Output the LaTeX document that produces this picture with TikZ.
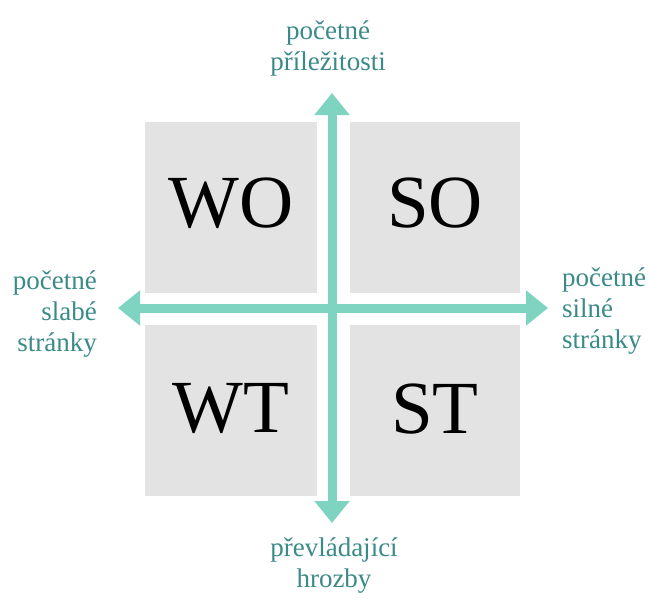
\documentclass[tikz,border=0pt]{standalone}
\usepackage{fontspec}
\setmainfont{Liberation Serif}
\usetikzlibrary{arrows.meta}
\definecolor{quadgray}{RGB}{228,227,227}
\definecolor{axismint}{RGB}{126,211,193}
\definecolor{labelteal}{RGB}{58,138,136}
\begin{document}
\begin{tikzpicture}[x=1pt,y=-1pt,
  quadrant/.style={fill=quadgray,draw=none},
  quadtext/.style={font=\fontsize{75}{80}\selectfont,inner sep=0pt,text=black},
  axislabel/.style={font=\fontsize{27}{31}\selectfont,inner sep=0pt,text=labelteal,anchor=base},
  axis/.style={draw=axismint,line width=9pt,
    {Triangle[width=34pt,length=22pt]}-{Triangle[width=34pt,length=22pt]}}]
  \useasboundingbox (0,0) rectangle (651,598);
  % the four quadrants
  \fill[quadrant] (145,122) rectangle (317,293);
  \fill[quadrant] (350,122) rectangle (520,293);
  \fill[quadrant] (145,325) rectangle (317,496);
  \fill[quadrant] (350,325) rectangle (520,496);
  \node[quadtext] (wo) at (231,203) {WO};
  \node[quadtext] (so) at (435,203) {SO};
  \node[quadtext] (wt) at (231,409) {WT};
  \node[quadtext] (st) at (435,409) {ST};
  % axis end points
  \coordinate (up) at (332,93);
  \coordinate (down) at (332,523);
  \coordinate (left) at (118,308);
  \coordinate (right) at (548,308);
  \draw[axis] (down) -- (up);
  \draw[axis] (left) -- (right);
  % axis labels (base anchor sits on the last line)
  \node[axislabel,align=center] (opp) at (328,70) {početné\\příležitosti};
  \node[axislabel,align=center] (thr) at (334,587) {převládající\\hrozby};
  \node[axislabel,align=right,anchor=base east] (weak) at (97,351) {početné\\slabé\\stránky};
  \node[axislabel,align=left,anchor=base west] (strong) at (562,348) {početné\\silné\\stránky};
\end{tikzpicture}
\end{document}
